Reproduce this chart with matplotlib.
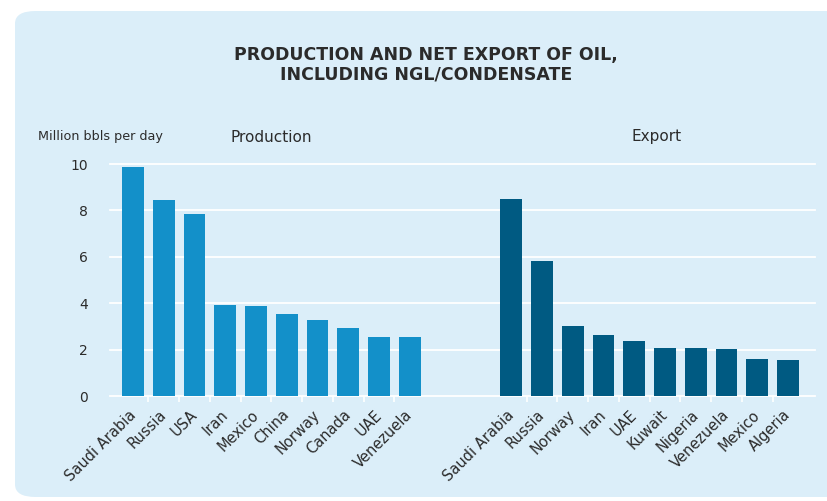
import numpy as np
import matplotlib.pyplot as plt
from matplotlib.patches import FancyBboxPatch
from matplotlib.transforms import ScaledTranslation

# Oil production and net export, million barrels per day
prod_countries = ["Saudi Arabia", "Russia", "USA", "Iran", "Mexico", "China",
                  "Norway", "Canada", "UAE", "Venezuela"]
prod_values = [9.88, 8.46, 7.86, 3.93, 3.88, 3.54, 3.28, 2.94, 2.55, 2.55]

exp_countries = ["Saudi Arabia", "Russia", "Norway", "Iran", "UAE", "Kuwait",
                 "Nigeria", "Venezuela", "Mexico", "Algeria"]
exp_values = [8.50, 5.83, 3.02, 2.63, 2.37, 2.07, 2.07, 2.03, 1.60, 1.55]

y_ticks = [0, 2, 4, 6, 8, 10]

bg = "#dbeef9"
prod_color = "#1390c9"
exp_color = "#005a82"
text_color = "#2b2b2b"

fig = plt.figure(figsize=(8.27, 5.01), dpi=100)
fig.patch.set_facecolor("white")

# rounded light-blue panel behind everything
panel = FancyBboxPatch((15 / 827, 4 / 501), 1.2, (490 - 4) / 501,
                       boxstyle="round,pad=0,rounding_size=0.025",
                       transform=fig.transFigure, facecolor=bg,
                       edgecolor="none", zorder=-10)
fig.add_artist(panel)

ax = fig.add_axes([110 / 827, 105 / 501, 705 / 827, 232 / 501])
ax.set_facecolor("none")

gap = 12.3
x_prod = np.arange(len(prod_values))
x_exp = np.arange(len(exp_values)) + gap

ax.bar(x_prod, prod_values, width=0.71, color=prod_color, zorder=3)
ax.bar(x_exp, exp_values, width=0.71, color=exp_color, zorder=3)

ax.set_xlim(-0.75, x_exp[-1] + 0.88)
ax.set_ylim(0, 10)
ax.set_yticks(y_ticks)
ax.set_yticklabels([str(v) for v in y_ticks], fontsize=10, color=text_color)
ax.tick_params(axis="y", length=0, pad=16)
ax.grid(axis="y", color="white", linewidth=1.3, zorder=1)
for gl in ax.get_ygridlines():
    gl.set_clip_on(False)

# category labels, plus small ticks between the bars
ax.set_xticks(np.concatenate([x_prod, x_exp]))
ax.set_xticklabels(prod_countries + exp_countries, rotation=45, ha="right",
                   va="top", rotation_mode="anchor", fontsize=10.5,
                   color=text_color)
ax.tick_params(axis="x", length=0, pad=8)
shift = ScaledTranslation(-5 / 100, 0, fig.dpi_scale_trans)
for lbl in ax.get_xticklabels():
    lbl.set_transform(lbl.get_transform() + shift)
ax.set_xticks(np.concatenate([x_prod[:-1] + 0.5, x_exp[:-1] + 0.5]), minor=True)
ax.tick_params(axis="x", which="minor", length=4, width=1.2, color="white",
               direction="out")

for s in ax.spines.values():
    s.set_visible(False)

fig.text(0.515, 0.891, "PRODUCTION AND NET EXPORT OF OIL,", ha="center",
         va="center", fontsize=12.5, fontweight="bold", color=text_color)
fig.text(0.515, 0.851, "INCLUDING NGL/CONDENSATE", ha="center",
         va="center", fontsize=12.5, fontweight="bold", color=text_color)

fig.text(38 / 827, 1 - 136 / 501, "Million bbls per day", ha="left",
         va="center", fontsize=9.2, color=text_color)
fig.text(271 / 827, 1 - 137 / 501, "Production", ha="center",
         va="center", fontsize=11, color=text_color)
fig.text(657 / 827, 1 - 137 / 501, "Export", ha="center",
         va="center", fontsize=11, color=text_color)

fig.savefig("out.png", dpi=100)
